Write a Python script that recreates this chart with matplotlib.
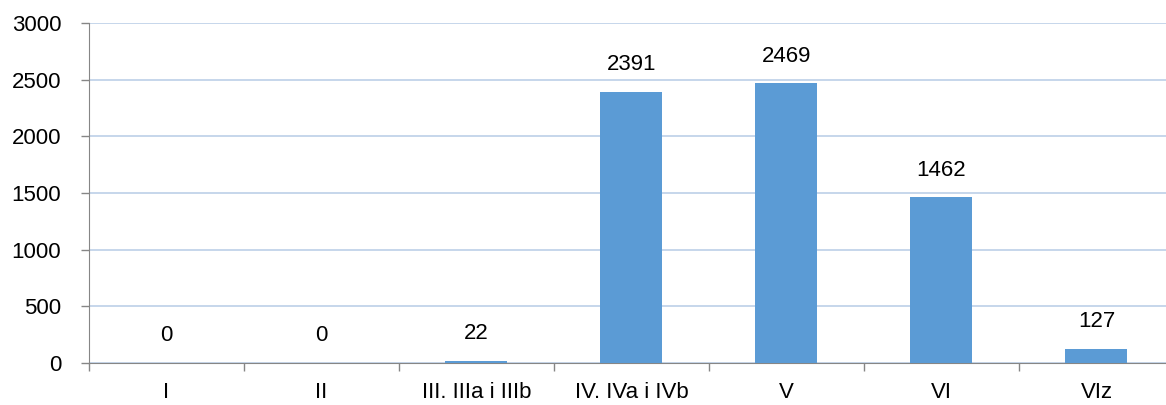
import matplotlib.pyplot as plt
import numpy as np

categories = ['I', 'II', 'III. IIIa i IIIb', 'IV. IVa i IVb', 'V', 'VI', 'VIz']
values = [0, 0, 22, 2391, 2469, 1462, 127]

plt.rcParams['font.family'] = ['Liberation Sans', 'DejaVu Sans']

fig = plt.figure(figsize=(11.66, 4.05), dpi=100)
ax = fig.add_axes([89 / 1166, 42 / 405, 1085 / 1166, 340 / 405])

x = np.arange(len(categories))
bars = ax.bar(x, values, width=0.4, color='#5B9BD5', zorder=3)
ax.bar_label(bars, labels=[str(v) for v in values], padding=12, fontsize=16, color='#000000')

ax.set_xlim(-0.5, len(categories) - 0.5)
ax.set_ylim(0, 3000)
ax.set_yticks(np.arange(0, 3001, 500))
ax.grid(axis='y', color='#BCD0E8', linewidth=1.2, zorder=0)

ax.set_xticks(x)
ax.set_xticklabels(categories)
ax.set_xticks(np.arange(-0.5, len(categories)), minor=True)
ax.tick_params(axis='x', which='major', length=0, pad=14, labelsize=16)
ax.tick_params(axis='x', which='minor', length=6, width=1, color='#868686', direction='out')
ax.tick_params(axis='y', length=6, width=1, color='#868686', pad=14, labelsize=16)

for s in ['top', 'right']:
    ax.spines[s].set_visible(False)
ax.spines['left'].set_color('#868686')
ax.spines['bottom'].set_color('#868686')

plt.savefig('out.png', dpi=100)
